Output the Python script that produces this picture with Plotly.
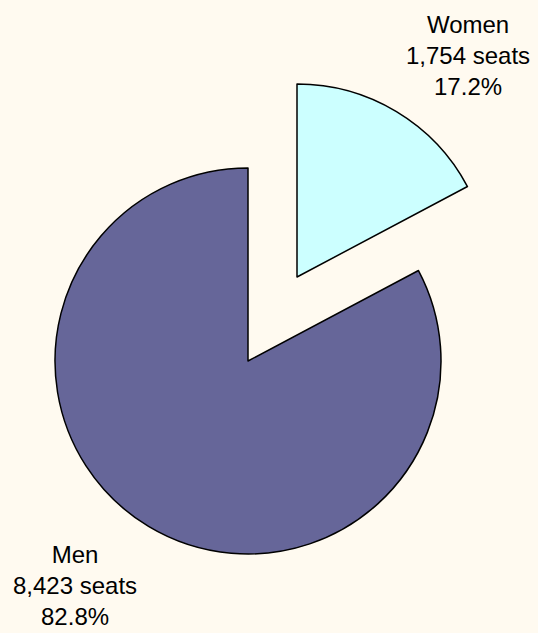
import plotly.graph_objects as go

categories = ["Women", "Men"]
seats = [1754, 8423]
colors = ["#CCFFFF", "#666699"]

W, H = 538, 633
BG = "#FFFAF0"
total = sum(seats)
pcts = [v / total * 100 for v in seats]

def dom(x0, x1, y0, y1):
    return dict(x=[x0 / W, x1 / W], y=[1 - y1 / H, 1 - y0 / H])

fig = go.Figure()
# Men slice (women slice hidden in this trace)
fig.add_trace(go.Pie(
    labels=categories, values=seats, sort=False, direction="clockwise", rotation=0,
    marker=dict(colors=["rgba(0,0,0,0)", colors[1]], line=dict(color="black", width=[0, 1.5])),
    textinfo="none", hoverinfo="skip", showlegend=False,
    domain=dom(55, 441, 168, 554),
))
# Women slice, exploded (men slice hidden in this trace)
fig.add_trace(go.Pie(
    labels=categories, values=seats, sort=False, direction="clockwise", rotation=0,
    marker=dict(colors=[colors[0], "rgba(0,0,0,0)"], line=dict(color="black", width=[1.5, 0])),
    textinfo="none", hoverinfo="skip", showlegend=False,
    domain=dom(104, 490, 84, 470),
))

label_pos = {"Men": (75, 585), "Women": (468, 55)}
for c, v, p in zip(categories, seats, pcts):
    x, y = label_pos[c]
    fig.add_annotation(
        x=x / W, y=1 - y / H, xref="paper", yref="paper", showarrow=False,
        text=f"{c}<br>{v:,} seats<br>{p:.1f}%", align="center",
        xanchor="center", yanchor="middle",
        font=dict(family="Liberation Sans, Arial", size=24, color="black"),
    )

fig.update_layout(
    width=W, height=H, margin=dict(l=0, r=0, t=0, b=0),
    paper_bgcolor=BG, plot_bgcolor=BG,
)
fig.write_html(
    "out.html",
    config={"displayModeBar": False},
    post_script="document.body.style.margin='0';document.body.style.overflow='hidden';"
                "document.body.style.background='" + BG + "';",
)
